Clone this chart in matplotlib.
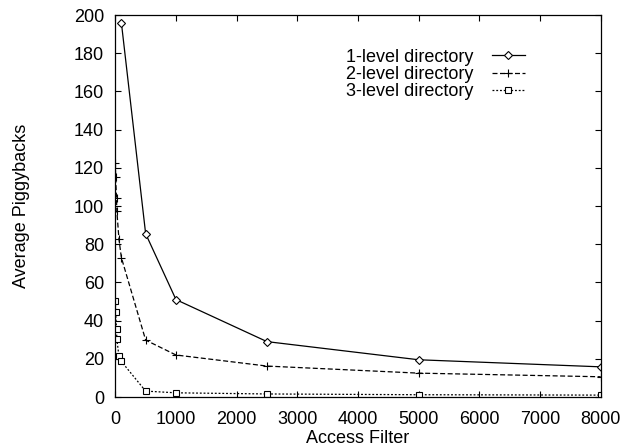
import matplotlib
matplotlib.use('Agg')
import matplotlib.pyplot as plt

plt.rcParams['font.family'] = ['Liberation Sans', 'DejaVu Sans']
plt.rcParams['font.size'] = 13

# access filter values and average piggybacks per directory depth
x1 = [100, 500, 1000, 2500, 5000, 8000]
lvl1 = [196, 85.5, 51, 29, 19.5, 15.8]

x23 = [1, 5, 20, 25, 60, 100, 500, 1000, 2500, 5000, 8000]
lvl2 = [122.7, 115, 104, 97.6, 82.6, 73, 29.8, 22, 16.2, 12.5, 10.6]
lvl3 = [50.3, 44.4, 35.4, 30.4, 21.4, 18.6, 3.1, 2.2, 1.6, 1.2, 1.0]

fig = plt.figure(figsize=(6.36, 4.48), dpi=100)
ax = fig.add_axes([0.1813, 0.1138, 0.7632, 0.8527])

ax.plot(x1, lvl1, color='black', lw=0.9, ls='-', marker='D', ms=4,
        mfc='white', mec='black', mew=0.8, label='1-level directory')
ax.plot(x23, lvl2, color='black', lw=0.9, ls=(0, (4, 2)), marker='+', ms=6,
        mew=0.8, label='2-level directory')
ax.plot(x23, lvl3, color='black', lw=0.9, ls=(0, (1.5, 1.5)), marker='s', ms=5,
        mfc='white', mec='black', mew=0.8, label='3-level directory')

ax.set_xlim(0, 8000)
ax.set_ylim(0, 200)
ax.set_xticks(range(0, 8001, 1000))
ax.set_yticks(range(0, 201, 20))
ax.tick_params(direction='in', top=True, right=True, length=4, width=0.8,
               labelsize=13)
ax.tick_params(axis='x', pad=10)
ax.tick_params(axis='y', pad=8)
for s in ax.spines.values():
    s.set_linewidth(0.9)

ax.set_xlabel('Access Filter', fontsize=13)
ax.set_ylabel('Average Piggybacks', fontsize=13)
ax.xaxis.set_label_coords(0.5, -0.086)
ax.yaxis.set_label_coords(-0.176, 0.5)

ax.legend(loc='upper right', bbox_to_anchor=(0.844, 0.912), frameon=False,
          markerfirst=False, handlelength=1.85, labelspacing=0.02,
          handletextpad=1.0, fontsize=13, borderpad=0, borderaxespad=0)

fig.savefig('out.png', dpi=100)
